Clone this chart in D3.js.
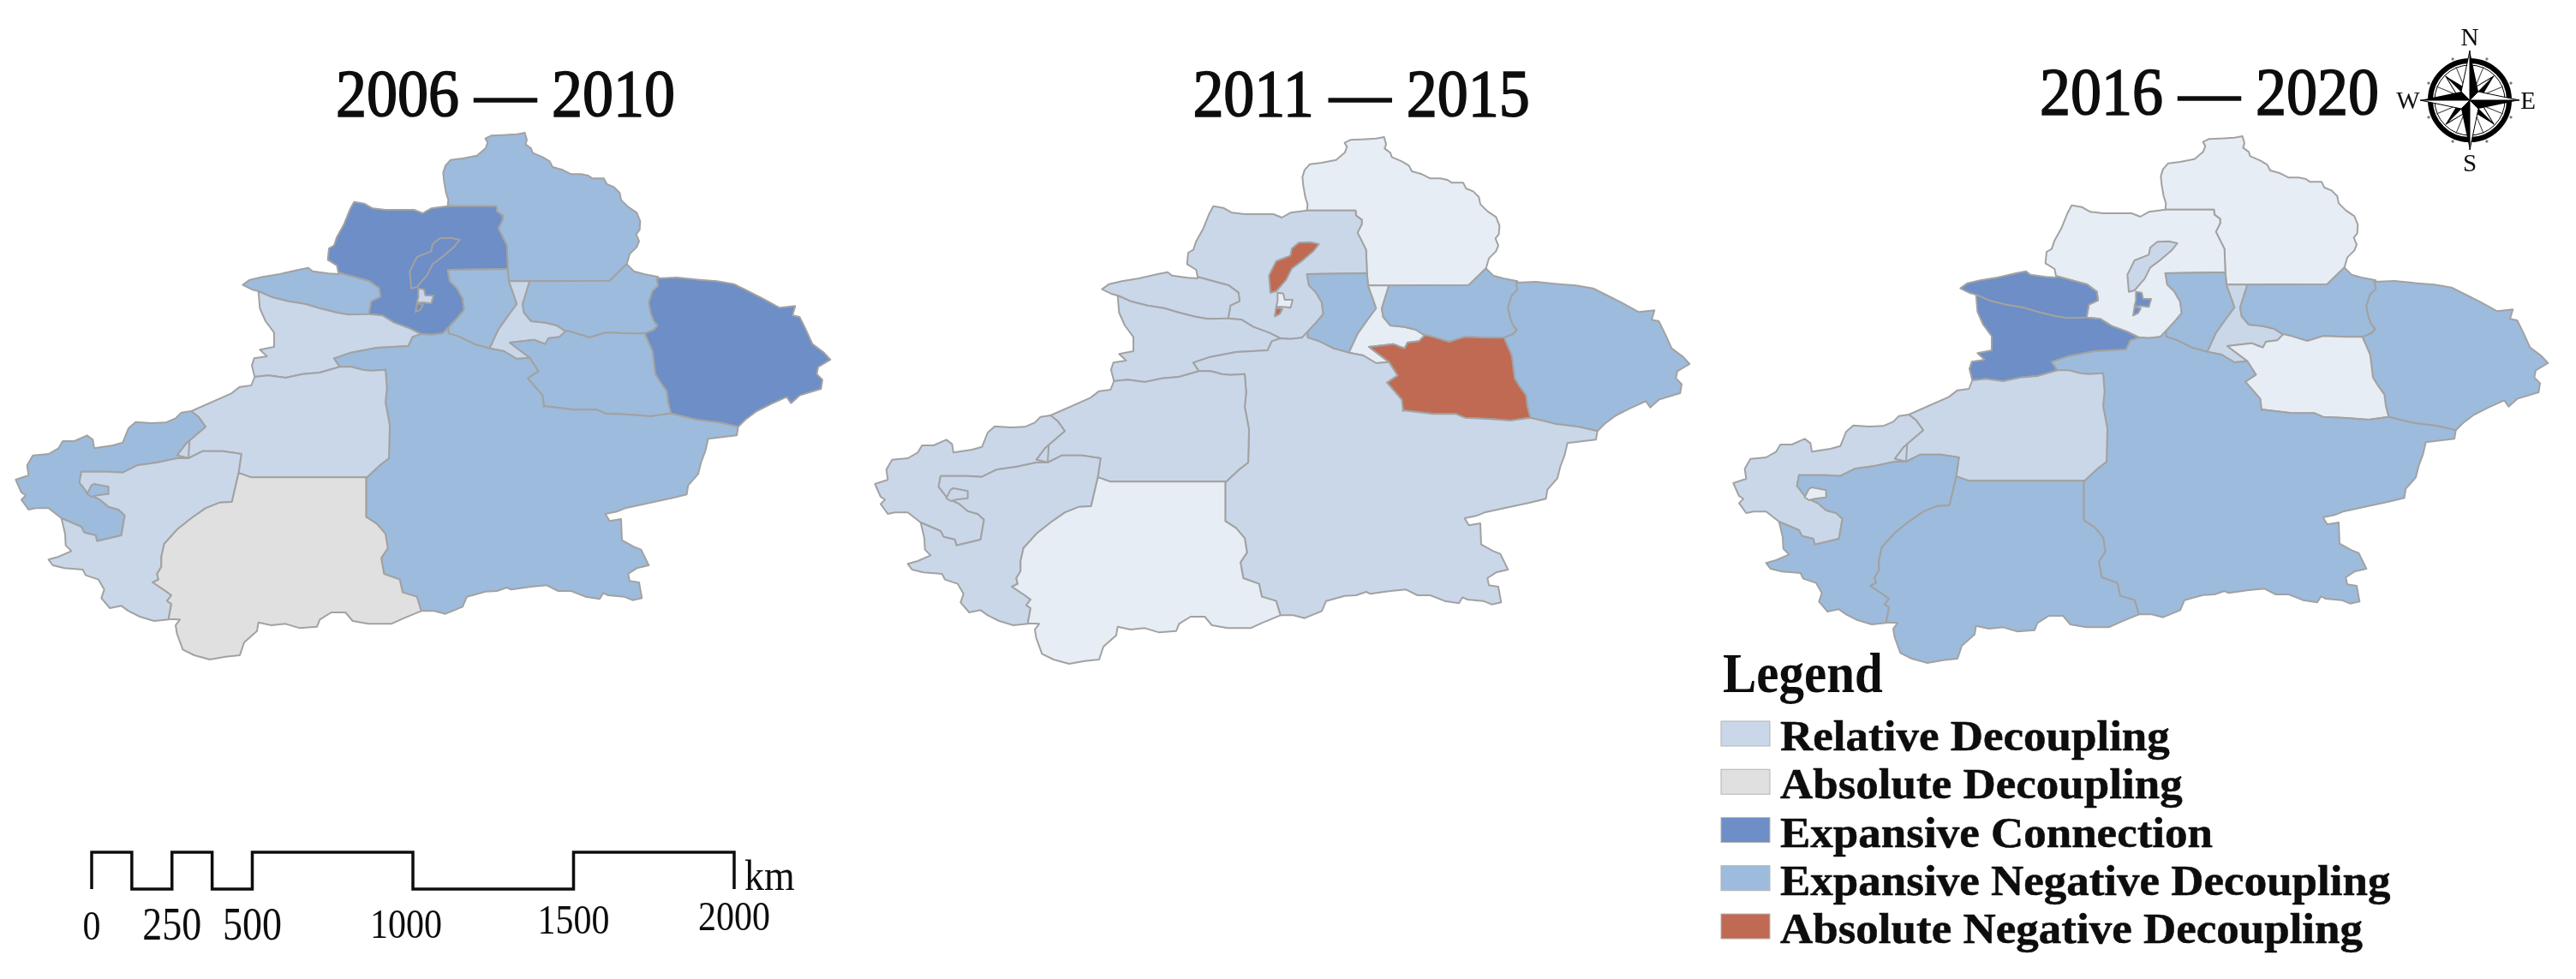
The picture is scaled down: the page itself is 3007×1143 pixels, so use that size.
<!DOCTYPE html>
<html><head><meta charset="utf-8">
<script src="https://cdn.jsdelivr.net/npm/d3@7"></script>
<style>html,body{margin:0;background:#fff}svg{display:block}text{font-family:"Liberation Serif",serif;fill:#0a0a0a}</style>
</head><body><svg id="c" width="3007" height="1143"><defs><filter id="soft" x="-2%" y="-2%" width="104%" height="104%"><feGaussianBlur stdDeviation="0.7"/></filter></defs></svg>
<script>
// ---- data ----
const periods=["2006 — 2010","2011 — 2015","2016 — 2020"];
const legendLabels=["Relative Decoupling","Absolute Decoupling","Expansive Connection","Expansive Negative Decoupling","Absolute Negative Decoupling"];
const scaleTicks=[0,250,500,1000,1500,2000];
const scaleSteps=[0,125,250,375,500,1000,1500,2000];
// class per region: R relative, A absolute, C connection, N expansive negative, X absolute negative, P pale
const regionNames=["Altay","Tacheng","Bortala","Ili","Changji","Urumqi","EastChangji","Hami","Turpan","Bayingol","Aksu","Kizilsu","Kashgar","Hotan","Karamay","Kuitun","Tail","Enclave"];
const status2006=["N","C","N","R","N","R","N","C","N","N","R","N","R","A","C","R","C","N"];
const status2011=["P","R","R","R","N","P","N","N","X","R","R","R","R","P","X","P","X","R"];
const status2016=["P","P","C","C","N","R","N","N","P","N","R","R","N","N","R","C","C","P"];
const from=(ox,oy)=>p=>p.map(([x,y])=>[ox+x/3,oy+y/3]);
const c1=from(370,145),c2=from(600,300),c3=from(0,480),c4=from(170,540),c5=from(470,480),c6=from(270,310);
const rev=a=>a.slice().reverse();
const altayOuter=c1([[458,287],[460,265],[452,240],[445,200],[442,170],[450,145],[468,125],[510,120],[560,110],[590,85],[598,65],[590,50],[610,40],[650,38],[700,35],[728,30],[735,55],[730,70],[750,85],[755,100],[790,115],[815,130],[825,150],[860,160],[890,175],[925,175],[950,180],[965,190],[1005,190],[1015,210],[1040,220],[1060,240],[1065,265],[1090,290],[1120,310],[1132,340],[1130,370],[1118,385],[1128,410],[1120,430],[1095,455],[1085,490]]);
const altayEC=c1([[1085,490],[1025,548],[745,550]]);
const altayUr=c1([[745,550],[672,550]]);
const tachAlt0=c1([[672,550],[668,507]]);
const tachAlt1=c1([[668,507],[665,425],[650,395],[635,365],[650,335],[650,320],[630,305],[628,287],[458,287]]);
const tachN=c1([[458,287],[400,295],[370,312],[340,300],[290,300],[240,300],[195,295],[165,278],[130,272],[115,300],[95,350],[70,395],[60,425],[42,435],[38,475],[70,495],[75,520]]);
const tachBor=c1([[75,520],[130,535],[185,550],[218,575],[222,605],[190,620],[182,665]]);
const tachIli=c1([[182,665],[230,670],[270,695],[325,715],[365,735]]);
const tachBay=c1([[365,735],[400,737],[440,733],[460,712]]);
const tachCh=c1([[460,712],[490,680],[515,650],[510,610],[490,575],[465,550],[458,510],[668,507]]);
const changjiBay=c1([[460,712],[460,732],[500,745],[550,770],[605,785]]);
const changjiUr=c1([[605,785],[635,720],[670,670],[700,630],[690,600],[672,550]]);
const urEC=c1([[745,550],[720,630],[725,660],[750,690],[800,695],[840,705],[870,725]]);
const urTur=c1([[870,725],[850,745],[810,750],[800,770],[785,765],[760,755],[675,765],[745,818]]);
const urBay=c1([[745,818],[700,822],[655,795],[605,785]]);
const ecN=c1([[1085,490],[1110,515],[1145,525],[1195,535]]);
const ecHami=c2([[500,75],[505,100],[485,120],[472,160],[480,200],[490,225],[503,240],[490,255],[458,268]]);
const ecTur=c2([[458,268],[400,268],[320,265],[265,282],[210,265],[180,258]]);
const hamiN=c2([[500,75],[570,72],[650,80],[710,85],[770,95],[820,120],[870,145],[930,178],[985,172],[975,205],[1000,210],[1020,250],[1045,305],[1085,335],[1108,360],[1065,385],[1060,410],[1080,430],[1075,462],[1000,485],[970,512],[955,490],[900,515],[850,540],[810,570],[785,595]]);
const hamiBay=c2([[785,595],[720,580],[640,570],[550,548]]);
const hamiTur=c2([[550,548],[540,510],[535,470],[510,435],[495,410],[485,330],[458,268]]);
const turBay=c1([[745,818],[775,865],[738,890],[790,950],[795,990]]);
const turS=c2([[103,522],[210,535],[290,535],[320,548],[400,552],[480,558],[550,548]]);
const bayE=c2([[785,595],[780,625],[680,637],[670,680],[655,720],[645,760],[610,800],[605,830]]);
const bayS=c5([[995,292],[940,305],[870,320],[780,340],[750,352],[710,360],[725,385],[765,378],[768,452],[810,475],[835,485],[862,540],[820,550],[790,570],[795,595],[828,600],[838,655],[805,662],[775,650],[720,645],[703,637],[690,658],[640,650],[590,630],[545,630],[505,610],[450,615],[380,625],[365,618],[330,630],[290,632],[225,650],[210,685],[150,710],[110,700],[70,700]]);
const bayHot=c4([[965,520],[950,470],[900,455],[890,410],[835,390],[825,335],[848,300],[840,250],[810,215],[772,190],[772,52]]);
const bayAk=c6([[475,742],[520,700],[552,675],[555,560],[540,480],[545,430],[540,365]]);
const tongueB=c6([[540,365],[490,368],[460,365],[420,355],[380,355]]);
const tongueA=c6([[380,355],[360,325],[420,305],[510,288],[620,282],[635,250],[665,240]]);
const borN=c6([[95,90],[75,85],[40,68],[65,50],[110,40],[170,30],[235,15],[270,8],[285,20],[340,28],[375,30]]);
const iliBor=c6([[95,90],[140,110],[200,125],[260,135],[310,150],[370,165],[410,172],[480,170]]);
const iliW=c6([[95,90],[100,150],[120,195],[150,235],[150,285],[100,295],[125,318],[80,325],[72,350],[82,390]]);
const iliAk=c6([[82,390],[130,385],[190,393],[250,380],[310,375],[380,355]]);
const aksuHot=c4([[772,52],[370,52],[330,38]]);
const kashN=c3([[660,165],[710,140],[780,140],[845,150],[835,220]]);
const kizAk=c3([[660,165],[620,155],[650,115],[690,80],[720,55],[695,20],[670,0]]);
const aksuW=[...c3([[670,0]]),...c6([[0,448],[30,425],[70,420],[82,390]])];
const kizN=c3([[670,0],[635,5],[615,25],[580,40],[530,42],[475,38],[450,60],[430,110],[395,120],[330,130],[325,100],[305,85],[260,105],[220,105],[205,130],[170,150],[115,155],[95,190],[100,225],[55,240],[75,285],[90,295],[75,310],[100,345],[125,340],[170,340],[215,375]]);
const kizKash=c3([[215,375],[285,405],[295,425],[335,435],[340,455],[385,445],[425,435],[437,365],[415,345],[380,335],[350,310],[330,300],[305,285],[290,265],[278,250],[285,212],[380,212],[430,215],[480,190],[550,180],[620,165],[660,165]]);
const kashHot=c3([[835,220],[812,318],[770,320],[720,340],[670,375],[620,415],[575,465],[565,510],[565,545],[550,570],[555,590],[535,600],[580,630],[600,645],[585,665],[600,675],[590,730]]);
const kashS=c3([[590,730],[540,735],[490,720],[450,700],[425,682],[385,690],[355,655],[365,625],[345,590],[300,575],[290,555],[225,550],[185,540],[170,520],[205,510],[250,490],[230,470],[228,430],[215,375]]);
const hotS=c4([[80,548],[120,550],[105,570],[110,600],[130,655],[170,675],[225,690],[280,680],[330,675],[345,630],[390,590],[395,560],[440,570],[490,565],[540,580],[600,575],[610,550],[650,525],[700,525],[725,555],[780,565],[860,565],[905,545],[965,520]]);
const karamay=c1([[500,405],[470,398],[430,400],[405,420],[400,445],[350,465],[325,515],[330,575],[350,570],[385,530],[405,490],[445,460],[480,430]]);
const kuitun=c1([[355,575],[375,578],[380,600],[408,600],[400,628],[375,625],[350,625],[355,605]]);
const tail=c1([[350,628],[372,632],[362,650],[345,658]]);
const enclave=c3([[305,290],[320,260],[330,255],[380,265],[380,290],[340,295],[320,300]]);
const outlines={
 Altay:[...altayOuter,...altayEC,...altayUr,...tachAlt0,...tachAlt1],
 Tacheng:[...tachN,...tachBor,...tachIli,...tachBay,...tachCh,...tachAlt1],
 Bortala:[...borN,...tachBor,...rev(iliBor)],
 Ili:[...iliBor,...tachIli,...rev(tongueA),...rev(iliAk),...rev(iliW)],
 Changji:[...rev(tachCh),...changjiBay,...changjiUr,...tachAlt0],
 Urumqi:[...rev(altayUr),...urEC,...urTur,...urBay,...changjiUr],
 EastChangji:[...rev(altayEC),...ecN,...ecHami,...ecTur,...rev(urEC)],
 Hami:[...hamiN,...hamiBay,...hamiTur,...rev(ecHami)],
 Turpan:[...urTur,...turBay,...turS,...hamiTur,...ecTur],
 Bayingol:[...tachBay,...changjiBay,...rev(urBay),...turBay,...turS,...rev(hamiBay),...bayE,...bayS,...bayHot,...bayAk,...tongueB,...tongueA],
 Aksu:[...iliAk,...rev(tongueB),...rev(bayAk),...aksuHot,...rev(kashN),...rev(kizAk),...aksuW],
 Kizilsu:[...kizN,...kizKash,...kizAk],
 Kashgar:[...kashN,...kashHot,...kashS,...kizKash],
 Hotan:[...rev(aksuHot),...rev(bayHot),...rev(hotS),...rev(kashHot)],
 Karamay:karamay,Kuitun:kuitun,Tail:tail,Enclave:enclave
};
const panelDx=[0,1003,2005], panelDy=[0,5,4];
const statusByPeriod=[status2006,status2011,status2016];
// ---- colours ----
const colour=d3.scaleOrdinal(["R","A","C","N","X","P"],["#c9d7e9","#e0e0e0","#6d8ec6","#9dbbdc","#c06a52","#e7edf4"]);
const svg=d3.select("#c");
const root=svg.append("g").attr("filter","url(#soft)");
// ---- maps ----
periods.forEach((title,i)=>{
  const x=d3.scaleLinear([0,1000],[panelDx[i],panelDx[i]+1000]);
  const y=d3.scaleLinear([0,1000],[panelDy[i],panelDy[i]+1000]);
  const line=d3.line(d=>x(d[0]),d=>y(d[1])).curve(d3.curveLinearClosed);
  root.append("g").attr("class","map").selectAll("path").data(regionNames).join("path")
    .attr("d",n=>line(outlines[n]))
    .attr("fill",(n,k)=>colour(statusByPeriod[i][k]))
    .attr("stroke","#a2a2a2").attr("stroke-width",2).attr("stroke-linejoin","round");
});
const stretch=(sel,fx,fy,kx,ky)=>sel.attr("transform",(d,i)=>`translate(${fx(d,i)},${fy(d,i)}) scale(${kx},${ky})`);
// ---- titles ----
const titleX=[590,1589,2579];
stretch(root.selectAll("text.title").data(periods).join("text").attr("class","title").attr("text-anchor","middle")
  .attr("font-size",72).attr("stroke","#0a0a0a").attr("stroke-width",1.5).text(d=>d),
  (d,i)=>titleX[i],(d,i)=>i==2?133:135,1,1.08);
// ---- legend ----
const legendKeys=["R","A","C","N","X"];
root.append("text").attr("transform","translate(2011,808) scale(1,1.1)").attr("font-size",59).attr("font-weight","bold").text("Legend");
const lg=root.selectAll("g.li").data(legendLabels).join("g").attr("class","li");
const ly=d3.scalePoint(legendLabels,[876,1101]);
lg.append("rect").attr("x",2009).attr("y",d=>ly(d)-34).attr("width",57).attr("height",29)
  .attr("fill",(d,i)=>colour(legendKeys[i])).attr("stroke","#b4b4b4").attr("stroke-width",1);
stretch(lg.append("text").attr("font-size",50).attr("font-weight","bold").attr("stroke","#0a0a0a").attr("stroke-width",.5).text(d=>d),
  ()=>2078,d=>ly(d),1.06,1);
// ---- scale bar ----
const sx=d3.scaleLinear([0,2000],[107,857]);
const stepPts=[[sx(0),1038]];
scaleSteps.slice(0,-1).forEach((s,i)=>{
  const yy=i%2==0?995:1038;
  stepPts.push([sx(s),yy],[sx(scaleSteps[i+1]),yy]);
});
stepPts.push([sx(2000),1038]);
root.append("path").attr("d",d3.line()(stepPts)).attr("fill","none").attr("stroke","#111").attr("stroke-width",3.5);
const tickBase=[1097,1097,1097,1095,1090,1086];
const tickDx=[0,0,0,-8,0,0];
const tickFont=[42,46,46,42,42,42];
stretch(root.selectAll("text.tick").data(scaleTicks).join("text").attr("class","tick").attr("text-anchor","middle")
  .attr("font-size",(d,i)=>tickFont[i]).text(d=>d),(d,i)=>sx(d)+tickDx[i],(d,i)=>tickBase[i],1,1.18);
root.append("text").attr("transform","translate(869,1039) scale(1,1.1)").attr("font-size",46).text("km");
// ---- compass ----
const comp=root.append("g").attr("transform","translate(2883,117)");
comp.append("circle").attr("r",46).attr("fill","none").attr("stroke","#000").attr("stroke-width",6);
comp.append("circle").attr("r",41).attr("fill","none").attr("stroke","#000").attr("stroke-width",1);
d3.range(8).forEach(k=>comp.append("circle").attr("r",1.6).attr("fill","#777")
  .attr("transform",`rotate(${22.5+k*45}) translate(0,-52)`));
d3.range(8).forEach(k=>comp.append("path").attr("d","M0,0L0,-42").attr("stroke","#444").attr("stroke-width",1)
  .attr("transform",`rotate(${22.5+k*45})`));
[[45,40,8],[0,58,10]].forEach(([a0,r,w])=>{
  d3.range(4).forEach(k=>{
    const p=comp.append("g").attr("transform",`rotate(${a0+k*90})`);
    p.append("path").attr("d",`M0,0L0,${-r}L${w},${-w}Z`).attr("fill","#000");
    p.append("path").attr("d",`M0,0L0,${-r}L${-w},${-w}Z`).attr("fill","#fff").attr("stroke","#000").attr("stroke-width",1);
  });
});
const cardinals=[["N",0,-64],["S",0,83],["W",-72,10],["E",68,10]];
comp.selectAll("text").data(cardinals).join("text").attr("x",d=>d[1]).attr("y",d=>d[2])
  .attr("text-anchor","middle").attr("font-size",29).text(d=>d[0]);
</script></body></html>
